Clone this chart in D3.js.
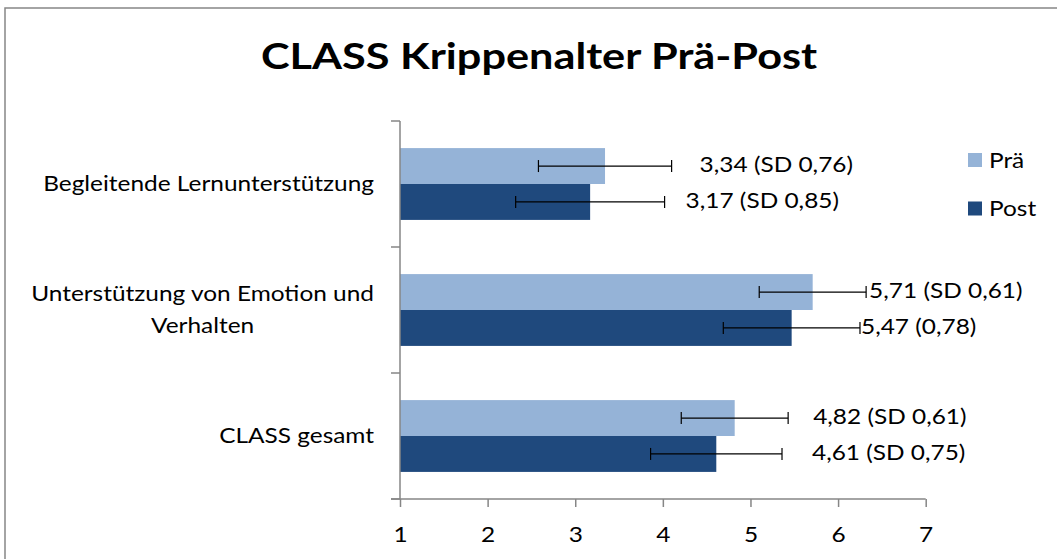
<!DOCTYPE html>
<html><head><meta charset="utf-8">
<script src="https://cdn.jsdelivr.net/npm/d3@7"></script>
<style>html,body{margin:0;padding:0;background:#fff;overflow:hidden}</style>
</head><body>
<svg id="c" width="1057" height="559"></svg>
<script>
const categories = ["Begleitende Lernunterstützung", "Unterstützung von Emotion und Verhalten", "CLASS gesamt"];
const categoryLines = [["Begleitende Lernunterstützung"], ["Unterstützung von Emotion und", "Verhalten"], ["CLASS gesamt"]];
const series = ["Prä", "Post"];
const praMeans = [3.34, 5.71, 4.82];
const praSD = [0.76, 0.61, 0.61];
const postMeans = [3.17, 5.47, 4.61];
const postSD = [0.85, 0.78, 0.75];
const praLabels = ["3,34 (SD 0,76)", "5,71 (SD 0,61)", "4,82 (SD 0,61)"];
const postLabels = ["3,17 (SD 0,85)", "5,47 (0,78)", "4,61 (SD 0,75)"];
const xTicks = [1, 2, 3, 4, 5, 6, 7];
const title = "CLASS Krippenalter Prä-Post";

(function () {
// styling (pixel offsets of data labels from error bar ends)
const praLabelGap = [28, 3, 25];
const postLabelGap = [21, 1, 30];
const colors = {"Prä": "#95B3D7", "Post": "#1F497D"};
const FONT = "Lato, 'Open Sans', sans-serif";
const SX = 1.11;      // horizontal stretch to mimic Calibri proportions
const FS = 22;

const svg = d3.select("#c");
svg.append("rect").attr("x", 5).attr("y", 8).attr("width", 1100).attr("height", 600)
  .attr("fill", "#fff").attr("stroke", "#878787").attr("stroke-width", 1.5);

function stext(parent, x, y, str, opts = {}) {
  const g = parent.append("g").attr("transform", `translate(${x},${y}) scale(${opts.sx || SX},1)`);
  const t = g.append("text").attr("font-family", FONT).attr("font-size", opts.fs || FS)
    .attr("fill", "#000").attr("text-anchor", opts.anchor || "start")
    .attr("font-weight", opts.weight || 400)
    .attr("dy", opts.dy == null ? "0.35em" : opts.dy).text(str);
  return t;
}

stext(svg, 539, 69, title, {fs: 37, weight: 700, anchor: "middle", dy: 0, sx: 1.17});

const pLeft = 400, pRight = 925.7, pTop = 121, pBottom = 499;
const x = d3.scaleLinear().domain([1, 7]).range([pLeft, pRight]);
const y = d3.scaleBand().domain(categories).range([pTop, pBottom]).paddingInner(0.43).paddingOuter(0.215);
const ys = d3.scaleBand().domain(series).range([0, y.bandwidth()]);
const yOuter = d3.scaleBand().domain(categories).range([pTop, pBottom]);

const data = [];
categories.forEach((c, i) => {
  data.push({c, s: "Prä", v: praMeans[i], sd: praSD[i], label: praLabels[i], gap: praLabelGap[i]});
  data.push({c, s: "Post", v: postMeans[i], sd: postSD[i], label: postLabels[i], gap: postLabelGap[i]});
});

const g = svg.append("g");
g.selectAll("rect.bar").data(data).join("rect").attr("class", "bar")
  .attr("x", x(1)).attr("y", d => y(d.c) + ys(d.s))
  .attr("width", d => x(d.v) - x(1)).attr("height", ys.bandwidth())
  .attr("fill", d => colors[d.s]);

// error bars
const eb = g.selectAll("g.err").data(data).join("g").attr("class", "err")
  .attr("transform", d => `translate(0,${y(d.c) + ys(d.s) + ys.bandwidth() / 2})`);
eb.append("line").attr("x1", d => x(d.v - d.sd)).attr("x2", d => x(d.v + d.sd))
  .attr("stroke", "#000").attr("stroke-width", 1.2);
eb.append("line").attr("x1", d => x(d.v - d.sd)).attr("x2", d => x(d.v - d.sd))
  .attr("y1", -6).attr("y2", 6).attr("stroke", "#000").attr("stroke-width", 1.2);
eb.append("line").attr("x1", d => x(d.v + d.sd)).attr("x2", d => x(d.v + d.sd))
  .attr("y1", -6).attr("y2", 6).attr("stroke", "#000").attr("stroke-width", 1.2);
eb.each(function (d) {
  stext(d3.select(this), x(d.v + d.sd) + d.gap, -2, d.label);
});

// y axis
const yAxisG = svg.append("g").attr("transform", `translate(${pLeft},0)`);
yAxisG.append("line").attr("x1", 0).attr("x2", 0).attr("y1", pTop).attr("y2", pBottom)
  .attr("stroke", "#868686").attr("stroke-width", 1.5);
yAxisG.selectAll("line.t").data([pTop, ...categories.map(c => yOuter(c) + yOuter.bandwidth())])
  .join("line").attr("class", "t").attr("x1", -9).attr("x2", 0)
  .attr("y1", d => d).attr("y2", d => d).attr("stroke", "#868686").attr("stroke-width", 1.5);

// category labels (block right-aligned, lines centred within block)
categoryLines.forEach((lines, i) => {
  const cy = y(categories[i]) + y.bandwidth() / 2;
  const ts = lines.map((ln, j) => stext(svg, 0, cy + (j - (lines.length - 1) / 2) * 32 - 1, ln, {anchor: "middle"}));
  const w = d3.max(ts, t => t.node().getComputedTextLength()) * SX;
  ts.forEach(t => {
    const pg = d3.select(t.node().parentNode);
    const tr = pg.attr("transform").replace(/translate\(([^,]+),/, `translate(${374 - w / 2},`);
    pg.attr("transform", tr);
  });
});

// x axis
const xAxis = d3.axisBottom(x).tickValues(xTicks).tickSize(8).tickSizeOuter(0).tickPadding(19)
  .tickFormat(d3.format("d"));
const xg = svg.append("g").attr("transform", `translate(0,${pBottom})`).call(xAxis);
xg.select(".domain").attr("stroke", "#868686").attr("stroke-width", 1.5)
  .attr("d", `M${pLeft - 9},0H${pRight}`);
xg.selectAll(".tick line").attr("stroke", "#868686").attr("stroke-width", 1.5);
xg.selectAll(".tick text").attr("font-family", FONT).attr("font-size", FS).attr("fill", "#000")
  .attr("transform", `scale(${SX},1)`).attr("x", 0);

// legend
const lg = svg.append("g");
series.forEach((s, i) => {
  const cy = 160 + i * 48.5;
  lg.append("rect").attr("x", 968).attr("y", cy - 7).attr("width", 14).attr("height", 14).attr("fill", colors[s]);
  stext(lg, 989, cy, s);
});
})();
</script>
</body></html>
